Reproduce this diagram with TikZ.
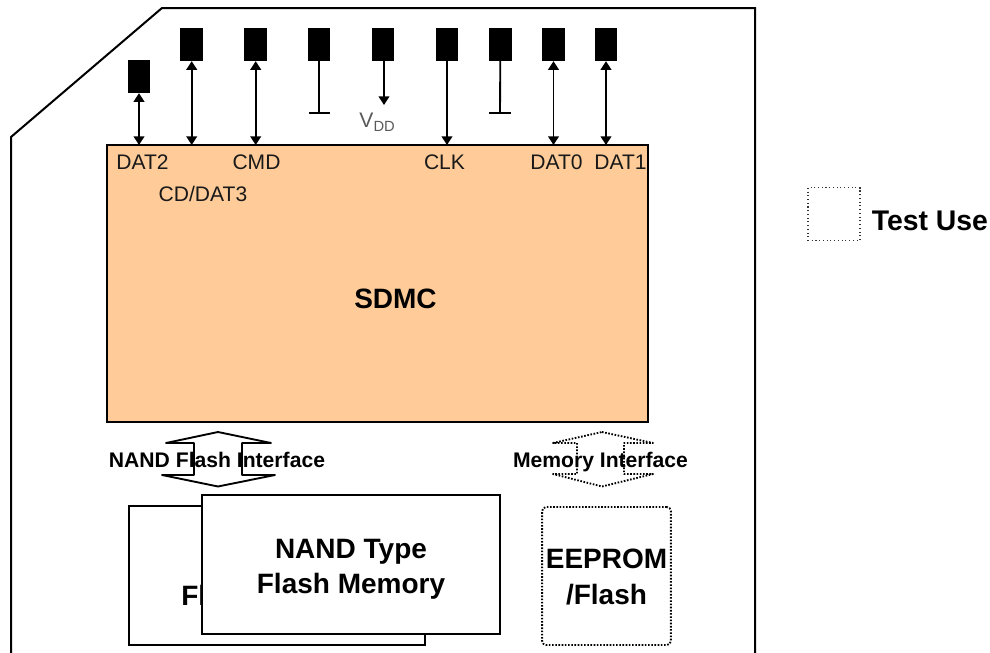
\documentclass[tikz,border=0pt]{standalone}
\usepackage{fontspec}
\setmainfont{Liberation Sans}
\usetikzlibrary{arrows.meta}
\tikzset{
  x=0.75pt,y=-0.75pt,
  pad/.style={draw=none,fill=black,minimum width=17pt,minimum height=25pt,inner sep=0pt,outer sep=0pt},
  pin/.style={line width=1.4pt},
  bidir/.style={pin,{Triangle[length=6.5pt,width=8pt]}-{Triangle[length=6.5pt,width=8pt]}},
  todown/.style={pin,-{Triangle[length=6.5pt,width=8pt]}},
  sig/.style={font=\fontsize{15.8}{18}\selectfont,inner sep=0pt,text=black!90},
  ifc/.style={font=\fontsize{15.85}{19}\selectfont\bfseries,inner sep=0pt,anchor=base},
  big/.style={font=\fontsize{21}{25}\selectfont\bfseries,inner sep=0pt,align=center},
  memb/.style={draw=black,line width=1.5pt,fill=white,inner sep=0pt,outer sep=0pt},
  dotln/.style={line width=1.4pt,dash pattern=on 1.2pt off 1.2pt,line join=round},
}
\begin{document}
\begin{tikzpicture}
\useasboundingbox (0,0) rectangle (990,653);
\draw[line width=1.5pt] (11,656) -- (11,137) -- (162,8) -- (755,8) -- (755,656);
% controller
\node[draw=black,line width=1.4pt,fill={rgb,255:red,255;green,204;blue,153},minimum width=405.75pt,minimum height=207.75pt,inner sep=0pt,outer sep=0pt] (sdmc) at (377.5,283.5) {};
\node[big] at (395.5,298.5) {SDMC};
% pads
\node[pad] (p1) at (139,76.5) {};
\node[pad] (p2) at (191.7,44.5) {};
\node[pad] (p3) at (255.7,44.5) {};
\node[pad] (p4) at (319,44.5) {};
\node[pad] (p5) at (383,44.5) {};
\node[pad] (p6) at (447,44.5) {};
\node[pad] (p7) at (500.3,44.5) {};
\node[pad] (p8) at (553.5,44.5) {};
\node[pad] (p9) at (606,44.5) {};
% pin connectors
\draw[bidir] (p1.south) -- (p1.south |- sdmc.north);
\draw[bidir] (p2.south) -- (p2.south |- sdmc.north);
\draw[bidir] (p3.south) -- (p3.south |- sdmc.north);
\draw[todown] (p6.south) -- (p6.south |- sdmc.north);
\draw[bidir] (p8.south) -- (p8.south |- sdmc.north);
\draw[bidir] (p9.south) -- (p9.south |- sdmc.north);
\coordinate (g1) at (319,113);
\coordinate (g2) at (500,113);
\coordinate (v) at (384,105);
\draw[pin] (p4.south) -- (g1);
\draw[pin] (309,113) -- (330,113);
\draw[pin] (p7.south) -- (g2);
\draw[pin] (489,113) -- (511,113);
\draw[todown] (p5.south -| v) -- (v);
\node[sig,text=black!65] at (377.5,122) {V\textsubscript{DD}};
% signal labels
\node[sig] at (142.5,162) {DAT2};
\node[sig] at (256.5,162) {CMD};
\node[sig] at (444.5,162) {CLK};
\node[sig] at (556.5,162) {DAT0};
\node[sig] at (620.5,162) {DAT1};
\node[sig] at (203,194) {CD/DAT3};
% interfaces
\draw[line width=1.4pt,line join=round,fill=white] (218,432) -- (271,443) -- (242,443) -- (242,475) -- (275,475) -- (218,486.5) -- (162,475) -- (194,475) -- (194,443) -- (166,443) -- cycle;
\node[ifc] at (217,467) {NAND Flash Interface};
\draw[dotln,fill=white] (602,432) -- (653,443) -- (624,443) -- (624,474) -- (653,474) -- (602,486.5) -- (553,474) -- (577,474) -- (577,443) -- (553,443) -- cycle;
\node[ifc] at (600.5,467) {Memory Interface};
% memory
\node[memb,minimum width=222pt,minimum height=104pt] (back) at (276.5,575.5) {};
\node[big,anchor=west] at (181,595) {Fl};
\node[memb,minimum width=223pt,minimum height=104pt] (front) at (351,564.5) {};
\node[big] at (351,569.5) {NAND Type\\[1.2pt]Flash Memory};
\node[draw=black,dotln,rounded corners=3pt,minimum width=96.5pt,minimum height=103.5pt,inner sep=0pt] (eeprom) at (606.5,576) {};
\node[big] at (606.5,577) {EEPROM\\[1.5pt]/Flash};
% legend
\node[draw=black!80,line width=0.8pt,dash pattern=on 0.8pt off 2pt,minimum width=39pt,minimum height=39.5pt,inner sep=0pt] (leg) at (834,214) {};
\node[font=\fontsize{21.3}{24}\selectfont\bfseries,inner sep=0pt,anchor=west] at (871.5,221) {Test Use};
\end{tikzpicture}
\end{document}
